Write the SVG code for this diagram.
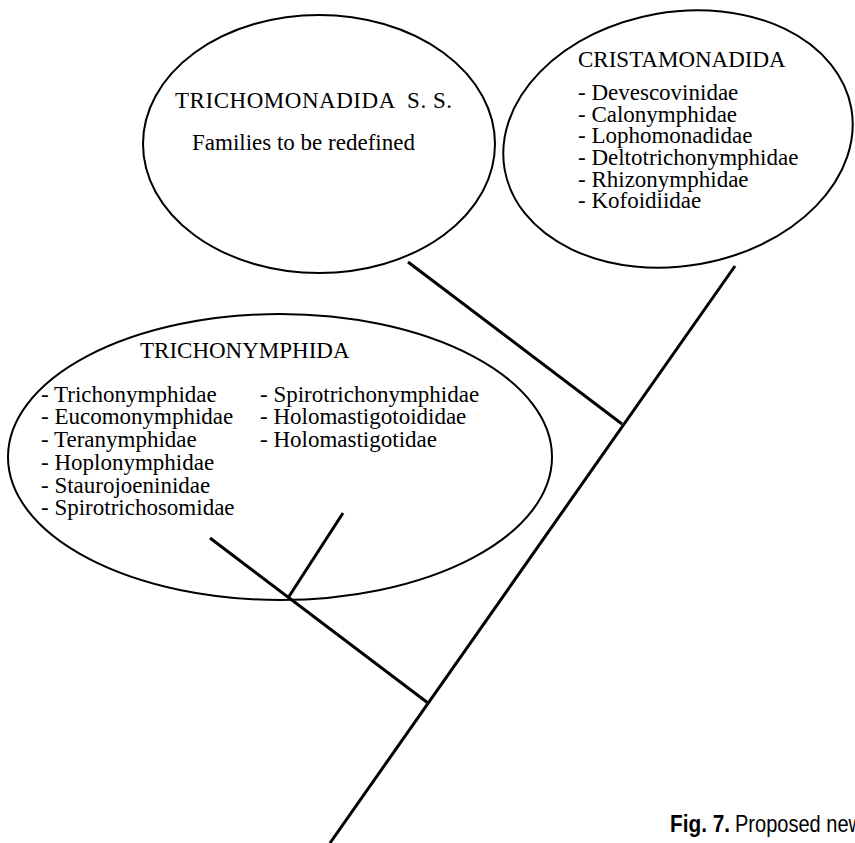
<svg xmlns="http://www.w3.org/2000/svg" width="855" height="843" viewBox="0 0 855 843">
<style>
.ell{fill:none;stroke:#000;stroke-width:2}
.br{stroke:#000;stroke-width:3;fill:none;stroke-linecap:butt}
.t{font-family:"Liberation Serif","Times New Roman",serif;font-size:23px;fill:#000}
.cap{font-family:"Liberation Sans",Arial,sans-serif;font-size:24px;fill:#000}
</style>
<rect width="855" height="843" fill="#fff"/>
<g id="connectors">
<line class="br" x1="330" y1="843" x2="735" y2="266"/>
<line class="br" x1="408" y1="262" x2="622" y2="424"/>
<line class="br" x1="210" y1="538" x2="428" y2="703"/>
<line class="br" x1="288" y1="598" x2="343" y2="513"/>
</g>
<g id="trichomonadida">
<ellipse class="ell" cx="319" cy="144" rx="176" ry="129"/>
<text class="t" x="175" y="108" textLength="277" lengthAdjust="spacing" xml:space="preserve">TRICHOMONADIDA  S. S.</text>
<text class="t" x="192" y="150">Families to be redefined</text>
</g>
<g id="cristamonadida">
<ellipse class="ell" cx="678" cy="139" rx="176" ry="127" transform="rotate(-10 678 139)"/>
<text class="t" x="578" y="67">CRISTAMONADIDA</text>
<text class="t" x="578" y="100">- Devescovinidae</text>
<text class="t" x="578" y="122">- Calonymphidae</text>
<text class="t" x="578" y="143">- Lophomonadidae</text>
<text class="t" x="578" y="165">- Deltotrichonymphidae</text>
<text class="t" x="578" y="187">- Rhizonymphidae</text>
<text class="t" x="578" y="208">- Kofoidiidae</text>
</g>
<g id="trichonymphida">
<ellipse class="ell" cx="280" cy="457" rx="272" ry="143"/>
<text class="t" x="140" y="358">TRICHONYMPHIDA</text>
<text class="t" x="41" y="402">- Trichonymphidae</text>
<text class="t" x="41" y="424">- Eucomonymphidae</text>
<text class="t" x="41" y="447">- Teranymphidae</text>
<text class="t" x="41" y="470">- Hoplonymphidae</text>
<text class="t" x="41" y="493">- Staurojoeninidae</text>
<text class="t" x="41" y="515">- Spirotrichosomidae</text>
<text class="t" x="260" y="402">- Spirotrichonymphidae</text>
<text class="t" x="260" y="424">- Holomastigotoididae</text>
<text class="t" x="260" y="447">- Holomastigotidae</text>
</g>
<g id="caption">
<text class="cap" x="670" y="832" font-weight="bold" textLength="60" lengthAdjust="spacingAndGlyphs">Fig. 7.</text>
<text class="cap" x="735" y="832" textLength="128" lengthAdjust="spacingAndGlyphs">Proposed new</text>
</g>
</svg>
